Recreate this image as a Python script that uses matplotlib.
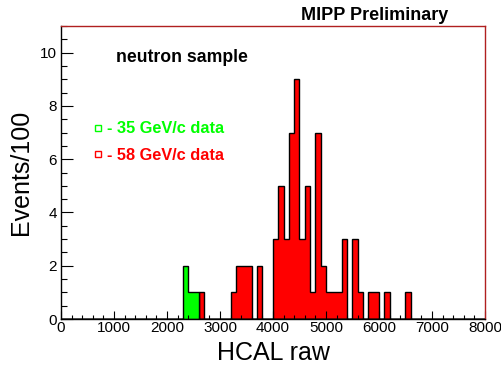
import numpy as np
import matplotlib
matplotlib.use('Agg')
from matplotlib import pyplot as plt
from matplotlib.lines import Line2D
from matplotlib.ticker import MultipleLocator

plt.rcParams['font.family'] = ['Liberation Sans', 'DejaVu Sans']

# -------------------- data ----------------------

# bins of 100 HCAL raw units, left edges and counts (Events/100)
bin_edges = np.arange(0, 8001, 100)

red_left = [2600, 3200, 3300, 3400, 3500, 3700, 4000, 4100, 4200, 4300, 4400,
            4500, 4600, 4700, 4800, 4900, 5000, 5100, 5200, 5300, 5500, 5600,
            5800, 5900, 6100, 6500]
red_counts = [1, 1, 2, 2, 2, 2, 3, 5, 3, 7, 9,
              3, 5, 1, 7, 2, 1, 1, 1, 3, 3, 1,
              1, 1, 1, 1]

green_left = [2300, 2400, 2500]
green_counts = [2, 1, 1]

legend_labels = ['- 35 GeV/c data', '- 58 GeV/c data']

# -------------------- plot ----------------------

fig = plt.figure(figsize=(5.02, 3.69), dpi=100)
ax = fig.add_axes([0.1215, 0.1355, 0.8445, 0.794])

ax.hist(np.array(red_left) + 50, bins=bin_edges, weights=red_counts,
        histtype='stepfilled', facecolor='#ff0000', edgecolor='black', linewidth=1)
ax.hist(np.array(green_left) + 50, bins=bin_edges, weights=green_counts,
        histtype='stepfilled', facecolor='#00ff00', edgecolor='black', linewidth=1)

ax.set_xlim(0, 8000)
ax.set_ylim(0, 11)

ax.xaxis.set_major_locator(MultipleLocator(1000))
ax.xaxis.set_minor_locator(MultipleLocator(200))
ax.yaxis.set_major_locator(MultipleLocator(2))
ax.yaxis.set_minor_locator(MultipleLocator(0.5))

ax.tick_params(axis='x', which='major', direction='in', length=6, width=0.8, labelsize=11, pad=1.5)
ax.tick_params(axis='x', which='minor', direction='in', length=3, width=0.8)
ax.tick_params(axis='y', which='major', direction='in', length=8.5, width=0.8, labelsize=11, pad=3)
ax.tick_params(axis='y', which='minor', direction='in', length=4.3, width=0.8)

for s in ['top', 'right']:
    ax.spines[s].set_color('#b02020')
for s in ax.spines.values():
    s.set_linewidth(1)

ax.set_xlabel('HCAL raw', fontsize=18, labelpad=4)
ax.set_ylabel('Events/100', fontsize=18, labelpad=5)

fig.text(0.892, 0.958, 'MIPP Preliminary', fontsize=13, fontweight='bold',
         ha='right', va='center')
ax.text(0.129, 0.892, 'neutron sample', transform=ax.transAxes, fontsize=12.7,
        fontweight='bold', ha='left', va='center')

handles = [Line2D([], [], marker='s', linestyle='none', markersize=5,
                  markerfacecolor='none', markeredgecolor='#00ff00'),
           Line2D([], [], marker='s', linestyle='none', markersize=5,
                  markerfacecolor='none', markeredgecolor='#ff0000')]
leg = ax.legend(handles, legend_labels, loc='upper left', bbox_to_anchor=(0.04, 0.725),
                frameon=False, handlelength=0.6, handletextpad=0.3, labelspacing=0.7,
                prop={'weight': 'bold', 'size': 11.8})
for t, c in zip(leg.get_texts(), ['#00ff00', '#ff0000']):
    t.set_color(c)

fig.savefig('out.png', dpi=100)
